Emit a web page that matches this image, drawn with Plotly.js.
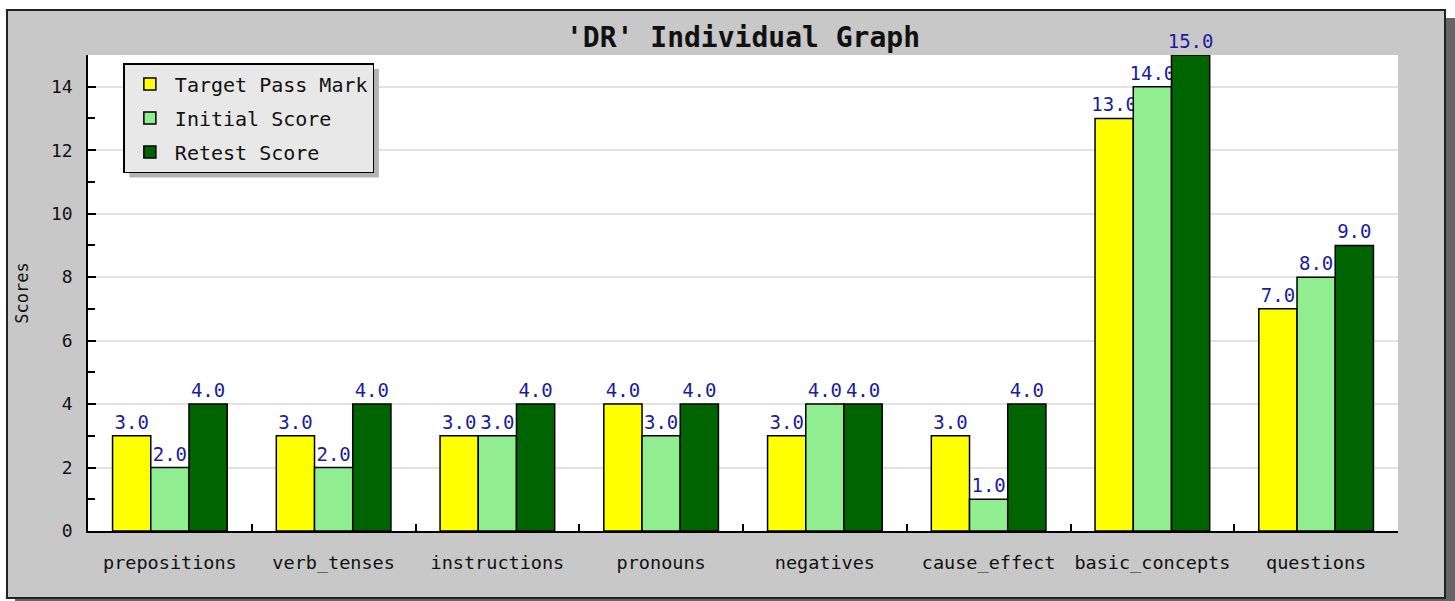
<!DOCTYPE html>
<html>
<head>
<meta charset="utf-8">
<script src="https://cdn.plot.ly/plotly-3.0.1.min.js"></script>
<style>
  body { margin: 0; background: #ffffff; }
  #frame {
    position: absolute; left: 6px; top: 9px;
    width: 1436px; height: 586px;
    border: 2px solid #222;
    box-shadow: 9px 9px 0 #666;
    background: #c8c8c8;
  }
  #chart { width: 1436px; height: 586px; }
</style>
</head>
<body>
<div id="frame"><div id="chart"></div></div>
<script>
var categories = ["prepositions", "verb_tenses", "instructions", "pronouns",
  "negatives", "cause_effect", "basic_concepts", "questions"];
var targetPass = [3, 3, 3, 4, 3, 3, 13, 7];
var initialScore = [2, 2, 3, 3, 4, 1, 14, 8];
var retestScore = [4, 4, 4, 4, 4, 4, 15, 9];

var monoFont = "DejaVu Sans Mono, Liberation Mono, monospace";

function barTrace(name, values, color, group) {
  return {
    type: "bar",
    name: name,
    x: categories,
    y: values,
    legendgroup: group,
    marker: { color: color, line: { color: "#000000", width: 1.5 } },
    texttemplate: "%{y:.1f}",
    textposition: "outside",
    constraintext: "none",
    cliponaxis: false,
    textfont: { family: monoFont, size: 19, color: "#1c1ca0" },
    hoverinfo: "x+y"
  };
}

var data = [
  barTrace("Target Pass Mark", targetPass, "#ffff00", "a"),
  barTrace("Initial Score", initialScore, "#90ee90", "b"),
  barTrace("Retest Score", retestScore, "#006400", "c")
];

var layout = {
  width: 1436, height: 586,
  margin: { t: 44, r: 46, b: 66, l: 80 },
  paper_bgcolor: "#c8c8c8",
  plot_bgcolor: "#ffffff",
  barmode: "group",
  bargap: 0.3,
  bargroupgap: 0,
  font: { family: monoFont, size: 17, color: "#111111" },
  title: {
    text: "'DR' Individual Graph",
    font: { family: monoFont, size: 28, color: "#111111", weight: "bold" },
    x: 0.5, xref: "paper", y: 0.955, yref: "container", yanchor: "middle"
  },
  xaxis: {
    type: "category",
    showline: true, linecolor: "#000000", linewidth: 1.5,
    ticks: "inside", tickson: "boundaries", ticklen: 7, tickwidth: 1.5, tickcolor: "#000000",
    ticklabelstandoff: 14,
    tickangle: 0,
    automargin: false,
    tickfont: { family: monoFont, size: 18.5, color: "#111111" },
    showgrid: false
  },
  yaxis: {
    range: [0, 15],
    dtick: 2,
    showline: true, linecolor: "#000000", linewidth: 1.5,
    ticks: "inside", ticklen: 8, tickwidth: 1.5, tickcolor: "#000000",
    minor: { dtick: 1, ticks: "inside", ticklen: 7, tickwidth: 1.5, tickcolor: "#000000", showgrid: false },
    ticklabelstandoff: 10,
    tickfont: { family: monoFont, size: 18, color: "#111111" },
    showgrid: true, gridcolor: "#e2e2e2", gridwidth: 1.5,
    zeroline: false,
    title: { text: "Scores", standoff: 18, font: { family: monoFont, size: 17, color: "#111111" } }
  },
  legend: {
    x: 0.027, y: 0.983, xanchor: "left", yanchor: "top",
    bgcolor: "#e8e8e8", bordercolor: "#000000", borderwidth: 1.5,
    traceorder: "grouped", tracegroupgap: 5,
    itemwidth: 40,
    font: { family: monoFont, size: 20, color: "#111111" }
  },
  shapes: [
    {
      type: "rect", xref: "paper", yref: "paper", layer: "above",
      x0: 0.031, x1: 0.235, y0: 0.973, y1: 0.745,
      fillcolor: "#b4b4b4", line: { width: 0 }
    }
  ],
  showlegend: true
};

var config = { displayModeBar: false, responsive: false };

Plotly.newPlot("chart", data, layout, config).then(function (gd) {
  // fit the legend's drop shadow to the legend box that was actually drawn
  var box = gd.querySelector(".legend .bg").getBBox();
  var lg = gd._fullLayout.legend;
  var fs = gd._fullLayout._size;
  var left = fs.l + lg.x * fs.w;
  var top = fs.t + (1 - lg.y) * fs.h;
  var off = 6;
  Plotly.relayout(gd, {
    "shapes[0].x0": (left + off - fs.l) / fs.w,
    "shapes[0].x1": (left + box.width + off - fs.l) / fs.w,
    "shapes[0].y0": 1 - (top + off - fs.t) / fs.h,
    "shapes[0].y1": 1 - (top + box.height + off - fs.t) / fs.h
  });
});
</script>
</body>
</html>
